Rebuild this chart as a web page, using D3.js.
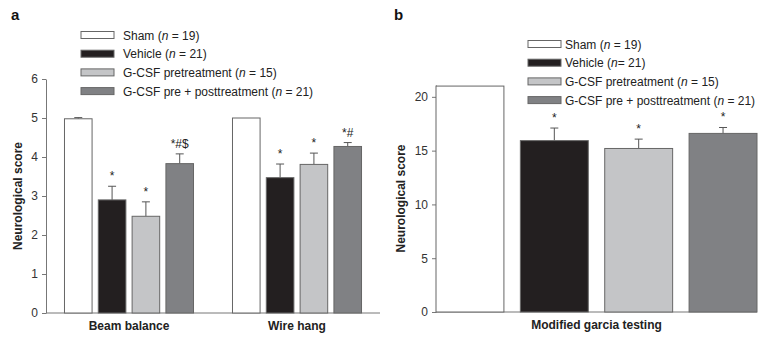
<!DOCTYPE html>
<html>
<head>
<meta charset="utf-8">
<script src="https://cdn.jsdelivr.net/npm/d3@7"></script>
<style>
  body { margin: 0; background: #fff; }
  svg { font-family: "Liberation Sans", Arial, sans-serif; }
  .axis path, .axis line { stroke: #777; }
  .axis text { fill: #333; font-size: 12px; }
</style>
</head>
<body>
<svg id="chart" width="760" height="339"></svg>
<script>
// groups (series) shared by both panels
const groups = ['Sham', 'Vehicle', 'G-CSF pretreatment', 'G-CSF pre + posttreatment'];
const colors = ['#ffffff', '#231f20', '#c4c5c7', '#808184'];
const legendA = [['Sham (', ' = 19)'], ['Vehicle (', ' = 21)'], ['G-CSF pretreatment (', ' = 15)'], ['G-CSF pre + posttreatment (', ' = 21)']];
const legendB = [['Sham (', ' = 19)'], ['Vehicle (', '= 21)'], ['G-CSF pretreatment (', ' = 15)'], ['G-CSF pre + posttreatment (', ' = 21)']];

// panel a
const testsA = ['Beam balance', 'Wire hang'];
const beamMean = [4.98, 2.9, 2.48, 3.83];
const beamErr = [0.03, 0.35, 0.37, 0.25];
const beamMark = ['', '*', '*', '*#$'];
const wireMean = [5.0, 3.47, 3.81, 4.27];
const wireErr = [0, 0.35, 0.29, 0.1];
const wireMark = ['', '*', '*', '*#'];
const ticksA = [0, 1, 2, 3, 4, 5, 6];

// panel b
const testsB = ['Modified garcia testing'];
const garciaMean = [21, 15.93, 15.2, 16.6];
const garciaErr = [0, 1.17, 0.87, 0.55];
const garciaMark = ['', '*', '*', '*'];
const ticksB = [0, 5, 10, 15, 20];

const svg = d3.select('#chart');

function panel(opt) {
  const g = svg.append('g');
  const y = d3.scaleLinear().domain(opt.domain).range([opt.bottom, opt.top]);
  const x0 = d3.scaleBand().domain(opt.tests).range([opt.left, opt.right])
    .paddingInner(opt.pi).paddingOuter(opt.po);
  const x1 = d3.scaleBand().domain(groups).range([0, x0.bandwidth()]).paddingInner(opt.barPad);

  // y axis
  g.append('g').attr('class', 'axis')
    .attr('transform', `translate(${opt.left},0)`)
    .call(d3.axisLeft(y).tickValues(opt.ticks).tickFormat(d3.format('d'))
      .tickSize(4).tickSizeOuter(0).tickPadding(4));

  // x axis line
  g.append('line')
    .attr('x1', opt.left).attr('x2', opt.right)
    .attr('y1', y(0)).attr('y2', y(0))
    .attr('stroke', '#777');

  opt.tests.forEach((t, ti) => {
    const means = opt.means[ti], errs = opt.errs[ti], marks = opt.marks[ti];
    const gg = g.append('g').attr('transform', `translate(${x0(t)},0)`);
    groups.forEach((s, i) => {
      const bx = x1(s), bw = x1.bandwidth(), cx = bx + bw / 2;
      const top = y(means[i] + errs[i]);
      if (errs[i] > 0) {
        gg.append('line').attr('x1', cx).attr('x2', cx)
          .attr('y1', y(means[i])).attr('y2', top).attr('stroke', '#555');
        gg.append('line').attr('x1', cx - 4).attr('x2', cx + 4)
          .attr('y1', top).attr('y2', top).attr('stroke', '#555');
      }
      gg.append('rect')
        .attr('x', bx).attr('width', bw)
        .attr('y', y(means[i])).attr('height', y(0) - y(means[i]))
        .attr('fill', colors[i]).attr('stroke', '#666').attr('stroke-width', 1);
      if (marks[i]) {
        gg.append('text').attr('x', cx).attr('y', top - 6)
          .attr('text-anchor', 'middle').attr('font-size', 12).attr('fill', '#222')
          .text(marks[i]);
      }
    });
    g.append('text')
      .attr('x', x0(t) + x0.bandwidth() / 2).attr('y', y(0) + 17)
      .attr('text-anchor', 'middle').attr('font-weight', 'bold').attr('font-size', 12)
      .attr('fill', '#222').text(t);
  });

  // y label
  g.append('text')
    .attr('transform', `translate(${opt.labelX},${(opt.top + opt.bottom) / 2}) rotate(-90)`)
    .attr('text-anchor', 'middle').attr('font-weight', 'bold').attr('font-size', 12)
    .attr('fill', '#222').text('Neurological score');

  // panel letter
  g.append('text').attr('x', opt.letterX).attr('y', 20)
    .attr('font-weight', 'bold').attr('font-size', 15).attr('fill', '#111').text(opt.letter);

  // legend
  opt.legend.forEach((l, i) => {
    const ly = opt.legY + i * 18.7;
    g.append('rect').attr('x', opt.legX).attr('y', ly - 3.5)
      .attr('width', 33).attr('height', 7)
      .attr('fill', colors[i]).attr('stroke', '#666');
    const tx = g.append('text').attr('x', opt.legX + opt.legGap).attr('y', ly + 4.5)
      .attr('font-size', 12).attr('fill', '#222');
    tx.append('tspan').text(l[0]);
    tx.append('tspan').attr('font-style', 'italic').text('n');
    tx.append('tspan').text(l[1]);
  });
}

panel({
  tests: testsA, means: [beamMean, wireMean], errs: [beamErr, wireErr], marks: [beamMark, wireMark],
  domain: [0, 6], ticks: ticksA, top: 79, bottom: 313, left: 46, right: 380,
  pi: 0.232, po: 0.11, barPad: 0.184, labelX: 22, letter: 'a', letterX: 11,
  legend: legendA, legX: 81, legY: 35, legGap: 42
});

panel({
  tests: testsB, means: [garciaMean], errs: [garciaErr], marks: [garciaMark],
  domain: [0, 21.1], ticks: ticksB, top: 85, bottom: 312, left: 436, right: 757,
  pi: 0, po: 0.0, barPad: 0.195, labelX: 405, letter: 'b', letterX: 394,
  legend: legendB, legX: 528, legY: 44, legGap: 37
});
</script>
</body>
</html>
